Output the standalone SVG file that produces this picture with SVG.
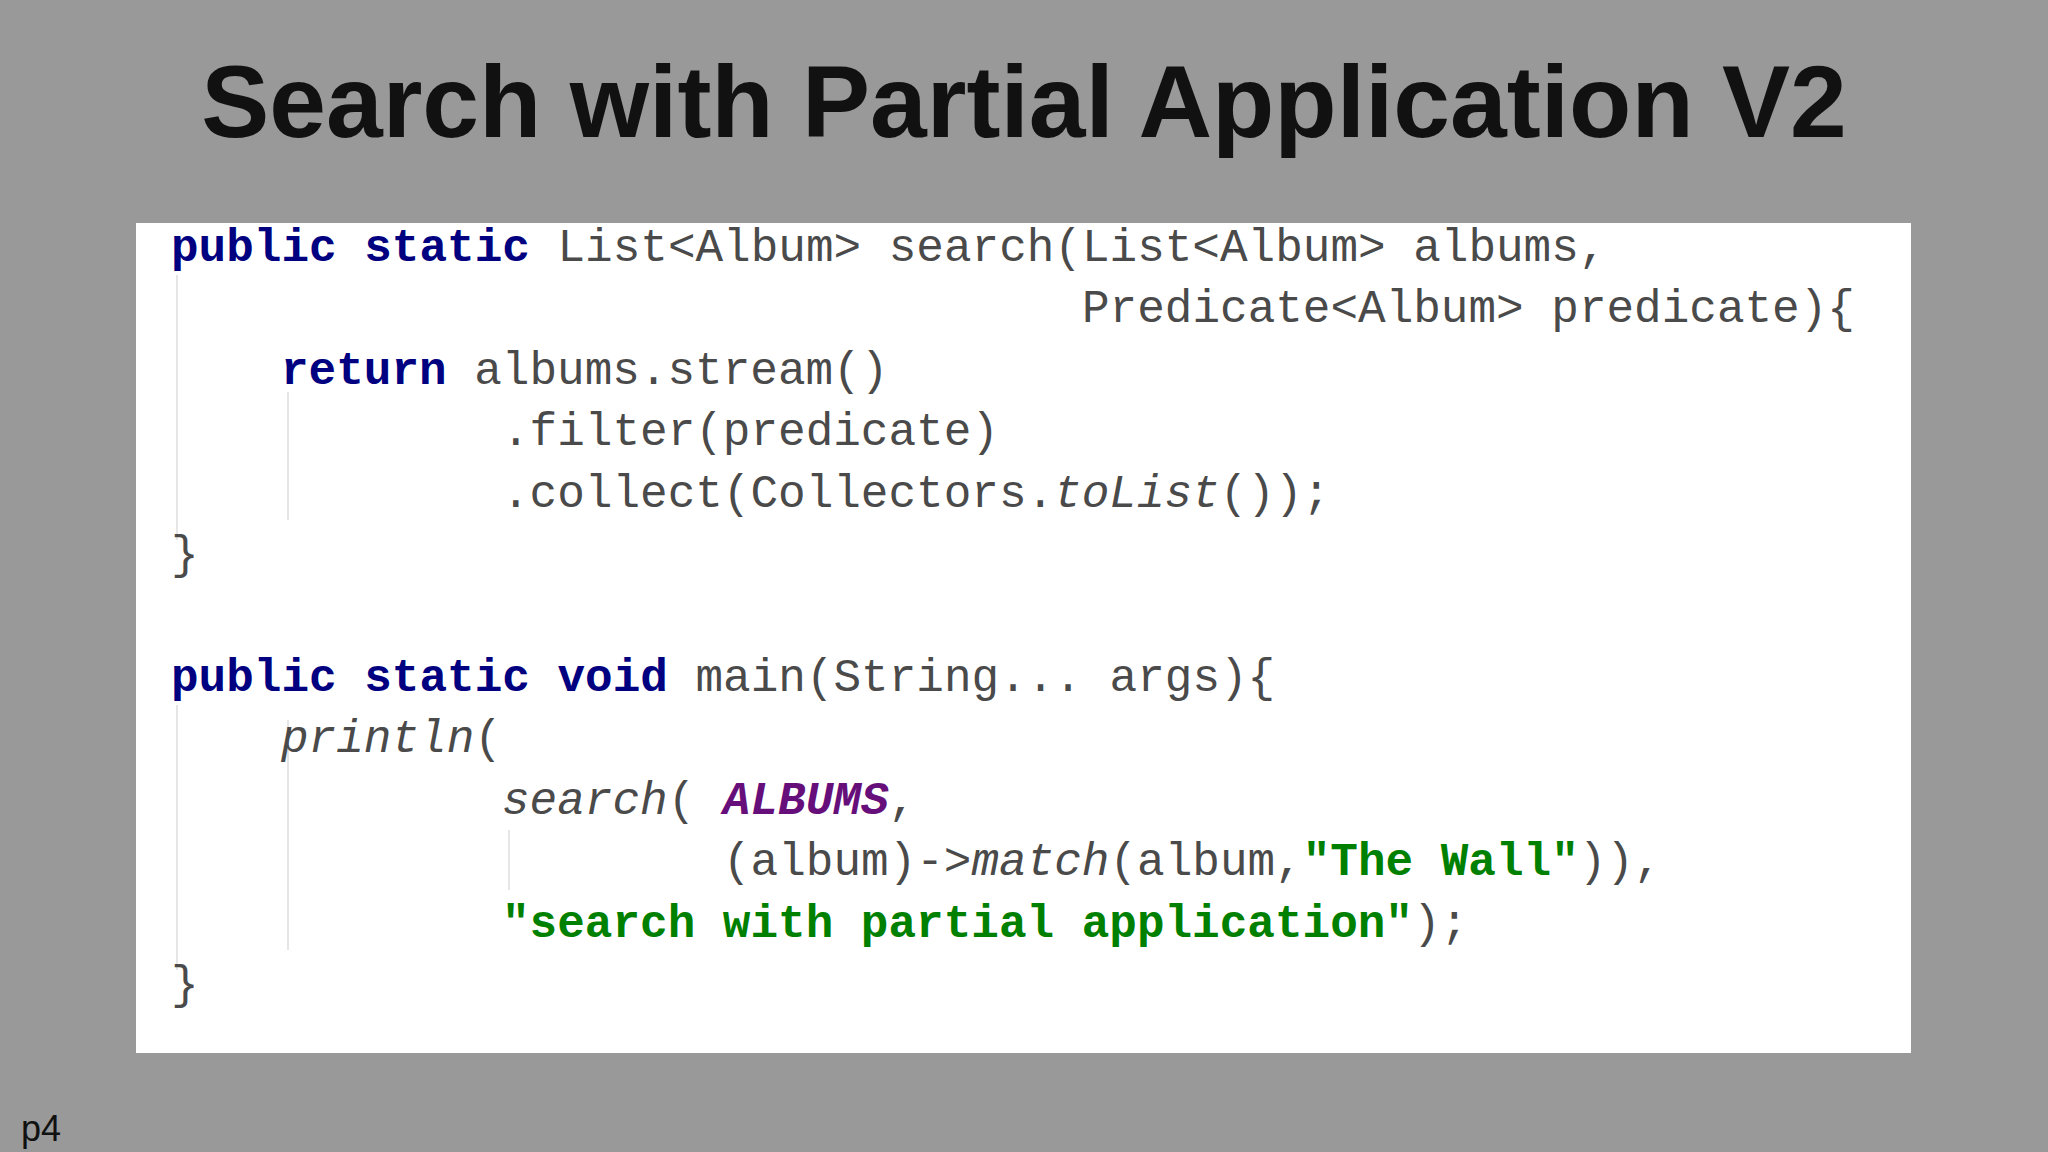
<svg xmlns="http://www.w3.org/2000/svg" width="2048" height="1152" viewBox="0 0 2048 1152">
<style>
.c{font-family:"Liberation Mono",monospace;font-size:46px;fill:#4a4a4a}
.k{fill:#000080;font-weight:bold}
.i{font-style:italic}
.p{fill:#660E7A;font-weight:bold;font-style:italic}
.s{fill:#008000;font-weight:bold}
.g{stroke:#e6e6e6;stroke-width:2}
</style>
<rect width="2048" height="1152" fill="#999"/>
<text x="1024" y="137" text-anchor="middle" font-family="Liberation Sans,Arial,sans-serif" font-weight="bold" font-size="102" fill="#111">Search with Partial Application V2</text>
<rect x="136" y="223" width="1775" height="830" fill="#fff"/>
<g id="guides">
<line class="g" x1="177" y1="275" x2="177" y2="540"/>
<line class="g" x1="288" y1="392" x2="288" y2="520"/>
<line class="g" x1="177" y1="705" x2="177" y2="970"/>
<line class="g" x1="288" y1="720" x2="288" y2="950"/>
<line class="g" x1="509" y1="830" x2="509" y2="890"/>
</g>
<g id="code" class="c">
<text x="171" y="261" xml:space="preserve"><tspan class="k">public static</tspan> List&lt;Album&gt; search(List&lt;Album&gt; albums,</text>
<text x="1082" y="322">Predicate&lt;Album&gt; predicate){</text>
<text x="281" y="384" xml:space="preserve"><tspan class="k">return</tspan> albums.stream()</text>
<text x="502" y="445">.filter(predicate)</text>
<text x="502" y="507">.collect(Collectors.<tspan class="i">toList</tspan>());</text>
<text x="171" y="568">}</text>
<text x="171" y="691" xml:space="preserve"><tspan class="k">public static void</tspan> main(String... args){</text>
<text x="281" y="752"><tspan class="i">println</tspan>(</text>
<text x="502" y="814" xml:space="preserve"><tspan class="i">search</tspan>( <tspan class="p">ALBUMS</tspan>,</text>
<text x="723" y="875">(album)-&gt;<tspan class="i">match</tspan>(album,<tspan class="s">"The Wall"</tspan>)),</text>
<text x="502" y="937" xml:space="preserve"><tspan class="s">"search with partial application"</tspan>);</text>
<text x="171" y="998">}</text>
</g>
<text x="21" y="1141" font-family="Liberation Sans,Arial,sans-serif" font-size="36" fill="#111">p4</text>
</svg>
